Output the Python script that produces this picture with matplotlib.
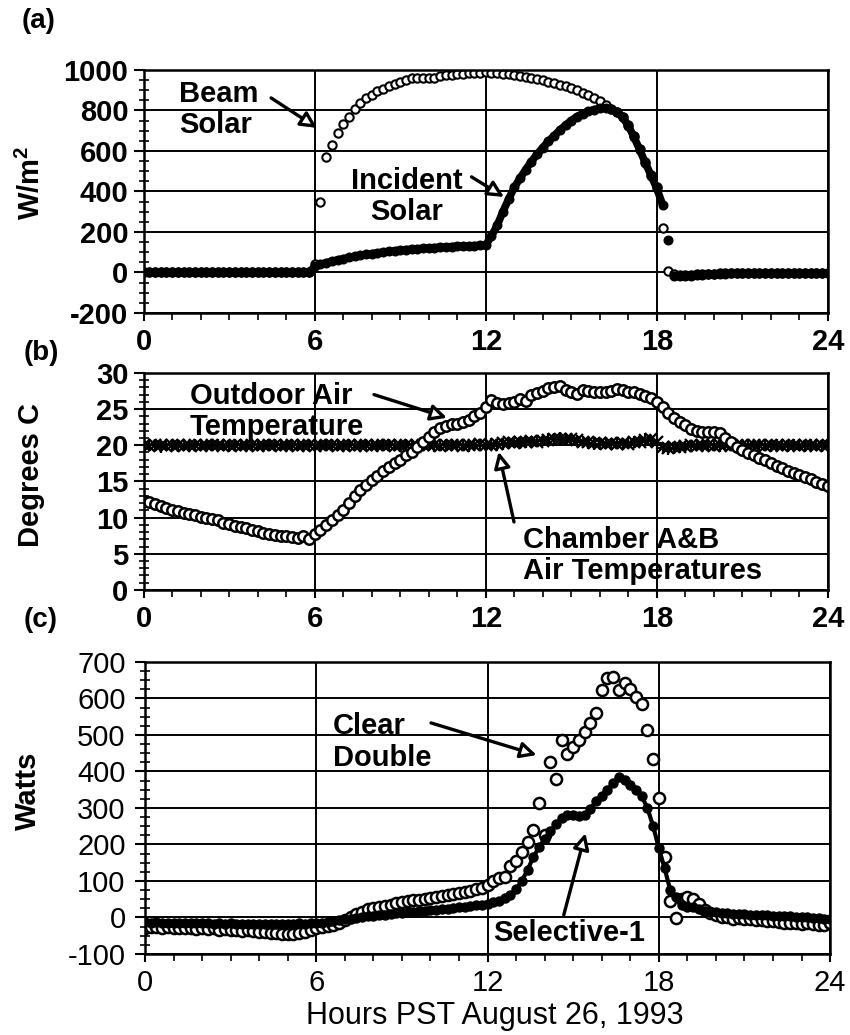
import numpy as np
import matplotlib
matplotlib.use("Agg")
import matplotlib.pyplot as plt
from matplotlib.ticker import MultipleLocator

plt.rcParams["font.family"] = ["Liberation Sans", "DejaVu Sans"]
plt.rcParams["mathtext.fontset"] = "custom"
plt.rcParams["mathtext.bf"] = "Liberation Sans:bold"
plt.rcParams["mathtext.rm"] = "Liberation Sans:bold"

# ===== data: one sample every 0.2 h, 0..24 h =====
hours = np.linspace(0, 24, 121)

beam_solar = [
    0, 0, 0, 0, 0, 0, 0, 0, 0, 0,
    0, 0, 0, 0, 0, 0, 0, 0, 0, 0,
    0, 0, 0, 0, 0, 0, 0, 0, 0, 0,
    40, 350, 570, 630, 690, 735, 770, 805, 835, 860,
    878, 895, 908, 922, 933, 942, 952, 958, 958, 959,
    959, 960, 968, 975, 977, 979, 981, 983, 985, 987,
    990, 986, 984, 981, 978, 975, 971, 966, 961, 956,
    950, 943, 935, 928, 920, 910, 900, 888, 875, 860,
    845, 825, 808, 792, 768, 728, 675, 612, 545, 482,
    420, 218, 5, -8, -12, -12, -10, -8, -7, -6,
    -6, -5, -5, -5, -5, -5, -4, -4, -5, -5,
    -5, -5, -4, -4, -5, -5, -4, -4, -5, -5,
    -5]

incident_solar = [
    0, 0, 0, 0, 0, 0, 0, 0, 0, 0,
    0, 0, 0, 0, 0, 0, 0, 0, 0, 0,
    0, 0, 0, 0, 0, 0, 0, 0, 0, 0,
    30, 40, 48, 55, 62, 68, 74, 79, 84, 89,
    93, 97, 101, 104, 107, 110, 113, 115, 117, 119,
    121, 123, 125, 126, 128, 129, 130, 131, 133, 134,
    136, 180, 232, 300, 362, 420, 465, 508, 548, 584,
    617, 648, 676, 703, 728, 750, 770, 785, 796, 804,
    810, 811, 806, 792, 766, 725, 668, 606, 540, 478,
    415, 335, 160, -15, -18, -17, -15, -12, -10, -8,
    -7, -6, -6, -5, -5, -5, -5, -4, -4, -4,
    -4, -4, -4, -3, -3, -3, -3, -3, -3, -3,
    -3]

outdoor_air = [
    12.3, 12.2, 11.9, 11.6, 11.3, 11.1, 10.9, 10.7, 10.5, 10.3,
    10.1, 9.9, 9.8, 9.6, 9.3, 9.1, 8.9, 8.7, 8.5, 8.3,
    8.1, 7.9, 7.7, 7.6, 7.5, 7.4, 7.3, 7.2, 7.4, 7.0,
    7.8, 8.3, 9.0, 9.7, 10.3, 11.1, 12.0, 13.0, 13.8, 14.5,
    15.2, 15.8, 16.5, 17.0, 17.5, 18.0, 18.6, 19.1, 19.7, 20.5,
    21.2, 21.8, 22.4, 22.7, 22.9, 23.0, 23.2, 23.5, 24.0, 24.5,
    25.3, 26.2, 25.8, 25.7, 25.9, 26.0, 26.4, 26.1, 27.0, 27.2,
    27.5, 27.9, 28.1, 28.2, 27.6, 27.3, 27.1, 27.6, 27.5, 27.3,
    27.4, 27.3, 27.5, 27.8, 27.6, 27.4, 27.3, 27.1, 26.8, 26.5,
    26.0, 25.3, 24.4, 23.8, 23.2, 22.8, 22.3, 22.0, 21.9, 21.9,
    21.8, 21.7, 21.0, 20.4, 19.8, 19.3, 18.9, 18.6, 18.3, 17.9,
    17.5, 17.1, 16.8, 16.4, 16.1, 15.9, 15.6, 15.3, 14.9, 14.6,
    14.3]

chamber_a = [
    20.0, 19.9, 20.1, 20.0, 19.9, 20.0, 20.1, 19.9, 20.0, 20.1,
    19.9, 20.0, 20.1, 20.0, 19.9, 20.0, 20.1, 19.9, 20.0, 20.1,
    19.9, 20.0, 20.1, 20.0, 19.9, 20.0, 20.1, 19.9, 20.0, 20.1,
    19.9, 20.0, 20.1, 20.0, 19.9, 20.0, 20.1, 19.9, 20.0, 20.1,
    19.9, 20.0, 20.1, 20.0, 19.9, 20.0, 20.1, 19.9, 20.0, 20.1,
    20.0, 20.1, 19.9, 20.0, 20.1, 20.0, 19.9, 20.1, 20.0, 20.2,
    20.1, 20.0, 20.2, 20.3, 20.4, 20.3, 20.5, 20.4, 20.6, 20.5,
    20.6, 20.7, 20.8, 20.9, 20.8, 20.9, 20.7, 20.5, 20.4, 20.3,
    20.3, 20.2, 20.3, 20.2, 20.3, 20.2, 20.4, 20.5, 20.7, 20.8,
    20.5, 19.7, 19.6, 19.7, 19.8, 19.9, 20.0, 19.9, 20.0, 20.1,
    19.9, 20.0, 20.1, 19.9, 20.0, 20.1, 19.9, 20.0, 20.1, 19.9,
    20.0, 20.1, 19.9, 20.0, 20.1, 19.9, 20.0, 20.1, 19.9, 20.0,
    20.0]

chamber_b = [
    19.9, 20.1, 20.0, 19.8, 20.1, 20.0, 19.9, 20.1, 19.9, 20.0,
    20.1, 19.9, 20.0, 20.1, 20.0, 19.9, 20.0, 20.1, 19.9, 20.0,
    20.1, 19.9, 20.0, 20.1, 20.0, 19.9, 20.0, 20.1, 19.9, 20.0,
    20.1, 19.9, 20.0, 20.1, 20.0, 19.9, 20.0, 20.1, 19.9, 20.0,
    20.1, 19.9, 20.0, 20.1, 20.0, 19.9, 20.0, 20.1, 19.9, 20.0,
    20.1, 19.9, 20.0, 20.1, 20.0, 20.1, 20.0, 19.9, 20.1, 20.0,
    20.0, 20.2, 20.1, 20.2, 20.3, 20.4, 20.3, 20.5, 20.5, 20.6,
    20.7, 20.8, 20.9, 21.0, 20.9, 20.8, 20.6, 20.4, 20.3, 20.2,
    20.2, 20.3, 20.2, 20.3, 20.2, 20.3, 20.5, 20.6, 20.8, 20.6,
    20.3, 19.6, 19.5, 19.6, 19.8, 19.8, 19.9, 20.0, 19.9, 20.0,
    20.1, 19.9, 20.0, 20.1, 19.9, 20.0, 20.1, 19.9, 20.0, 20.1,
    19.9, 20.0, 20.1, 19.9, 20.0, 20.1, 19.9, 20.0, 20.1, 19.9,
    20.1]

clear_double = [
    -28, -25, -27, -28, -26, -29, -28, -30, -29, -31,
    -30, -32, -30, -33, -31, -34, -33, -36, -35, -38,
    -40, -39, -42, -43, -44, -45, -44, -42, -40, -35,
    -30, -27, -24, -20, -14, -6, 2, 10, 16, 22,
    26, 29, 32, 35, 39, 42, 45, 47, 49, 51,
    53, 57, 60, 62, 64, 66, 70, 73, 77, 82,
    90, 100, 108, 112, 140, 155, 180, 208, 240, 313,
    227, 427, 380, 486, 447, 466, 486, 509, 532, 559,
    622, 655, 660, 623, 642, 625, 605, 585, 514, 433,
    327, 167, 44, -2, 50, 57, 50, 38, 21, 12,
    6, 2, 0, -3, -2, -5, -4, -7, -6, -9,
    -10, -12, -15, -16, -14, -17, -15, -18, -22, -20,
    -15]

selective_1 = [
    -12, -14, -13, -15, -14, -15, -14, -16, -15, -16,
    -15, -16, -17, -16, -17, -16, -17, -18, -17, -18,
    -17, -18, -17, -18, -17, -18, -17, -16, -17, -16,
    -15, -14, -12, -10, -8, -5, -3, -1, 1, 3,
    5, 6, 8, 9, 11, 12, 14, 15, 17, 18,
    20, 21, 23, 24, 26, 28, 29, 31, 33, 35,
    38, 41, 45, 52, 62, 78, 100, 130, 165, 192,
    215, 238, 255, 272, 280, 282, 278, 280, 298, 318,
    333, 350, 368, 385, 378, 362, 350, 332, 300, 250,
    190, 135, 75, 55, 35, 30, 28, 22, 18, 15,
    14, 12, 11, 10, 10, 9, 8, 8, 7, 6,
    5, 5, 4, 3, 2, 1, 0, -1, -2, -3,
    -4]

x_ticks = [0, 6, 12, 18, 24]
y_ticks_a = [-200, 0, 200, 400, 600, 800, 1000]
y_ticks_b = [0, 5, 10, 15, 20, 25, 30]
y_ticks_c = [-100, 0, 100, 200, 300, 400, 500, 600, 700]

ARROW = dict(arrowstyle="-|>", fc="white", ec="black", lw=2.4,
             mutation_scale=24, shrinkA=0, shrinkB=0)
TXT = dict(fontsize=21, fontweight="bold", linespacing=1.15)


def style_axes(ax, yticks, yminor, weight, xpad, ypad):
    ax.set_xlim(0, 24)
    ax.set_ylim(yticks[0], yticks[-1])
    ax.set_xticks(x_ticks, labels=[str(t) for t in x_ticks],
                  fontsize=21, fontweight=weight)
    ax.set_yticks(yticks, labels=[str(t) for t in yticks],
                  fontsize=21, fontweight=weight)
    ax.xaxis.set_minor_locator(MultipleLocator(1))
    ax.yaxis.set_minor_locator(MultipleLocator(yminor))
    ax.grid(True, which="major", color="black", lw=1.4)
    ax.tick_params(axis="x", which="major", direction="out", length=6,
                   width=1.5, pad=xpad)
    ax.tick_params(axis="x", which="minor", direction="out", length=5,
                   width=1.2)
    ax.tick_params(axis="y", which="major", direction="out", length=7,
                   width=1.5, pad=ypad)
    ax.tick_params(axis="y", which="minor", direction="inout", length=7,
                   width=1.2)
    for sp in ax.spines.values():
        sp.set_linewidth(1.8)
    ax.set_axisbelow(True)


fig = plt.figure(figsize=(8.5, 10.35), dpi=100)

# ----- (a) solar -----
ax1 = fig.add_axes([0.169, 0.6976, 0.805, 0.2348])
ax1.plot(hours, beam_solar, "o", ms=6, mfc="white", mec="black", mew=1.5)
ax1.plot(hours[:92], incident_solar[:92], "-", color="black", lw=5.5)
ax1.plot(hours[93:], incident_solar[93:], "-", color="black", lw=5.5)
ax1.plot(hours, incident_solar, "o", ms=6.2, mfc="black", mec="black")
style_axes(ax1, y_ticks_a, 50, "bold", 5, 4)
ax1.set_ylabel(r"W/m$^{\mathbf{2}}$", fontsize=21, fontweight="bold")
ax1.yaxis.set_label_coords(-0.142, 0.535)
ax1.text(1.24, 950, "Beam\nSolar", ha="left", va="top", **TXT)
ax1.annotate("", xy=(6.08, 714), xytext=(4.47, 862), arrowprops=ARROW)
ax1.text(9.24, 521, "Incident\nSolar", ha="center", va="top",
         multialignment="center", **TXT)
ax1.annotate("", xy=(12.64, 373), xytext=(11.5, 472), arrowprops=ARROW)

# ----- (b) temperatures -----
ax2 = fig.add_axes([0.169, 0.4300, 0.805, 0.2097])
ax2.plot(hours, chamber_a, "x", ms=8, mec="black", mew=1.6)
ax2.plot(hours, chamber_b, "+", ms=9, mec="black", mew=1.6)
ax2.plot(hours, outdoor_air, "o", ms=7.5, mfc="white", mec="black", mew=1.8)
style_axes(ax2, y_ticks_b, 1, "bold", 5, 4)
ax2.set_ylabel("Degrees C", fontsize=21, fontweight="bold")
ax2.yaxis.set_label_coords(-0.144, 0.53)
ax2.text(1.63, 28.8, "Outdoor Air\nTemperature", ha="left", va="top", **TXT)
ax2.annotate("", xy=(10.64, 23.8), xytext=(8.08, 27.0), arrowprops=ARROW)
ax2.text(13.3, 8.9, "Chamber A&B\nAir Temperatures", ha="left", va="top", **TXT)
ax2.annotate("", xy=(12.45, 19.1), xytext=(12.99, 9.4), arrowprops=ARROW)

# ----- (c) window heat gain -----
ax3 = fig.add_axes([0.1706, 0.0783, 0.806, 0.2821])
ax3.plot(hours, clear_double, "o", ms=8, mfc="white", mec="black", mew=1.8)
ax3.plot(hours, selective_1, "-", color="black", lw=3)
ax3.plot(hours, selective_1, "o", ms=6.5, mfc="black", mec="black")
style_axes(ax3, y_ticks_c, 25, "normal", 5, 7)
ax3.set_ylabel("Watts", fontsize=21, fontweight="bold")
ax3.yaxis.set_label_coords(-0.150, 0.56)
ax3.set_xlabel("Hours PST August 26, 1993", fontsize=22)
ax3.xaxis.set_label_coords(0.51, -0.162)
ax3.text(6.59, 562, "Clear\nDouble", ha="left", va="top", **TXT)
ax3.annotate("", xy=(13.72, 445), xytext=(10.02, 533), arrowprops=ARROW)
ax3.text(12.19, -3, "Selective-1", ha="left", va="top", **TXT)
ax3.annotate("", xy=(15.43, 231), xytext=(14.67, 7), arrowprops=ARROW)

# panel letters
fig.text(0.026, 1 - 8 / 1035, "(a)", fontsize=20, fontweight="bold", va="top")
fig.text(0.028, 1 - 340 / 1035, "(b)", fontsize=20, fontweight="bold", va="top")
fig.text(0.028, 1 - 607 / 1035, "(c)", fontsize=20, fontweight="bold", va="top")

fig.savefig("out.png", dpi=100)
